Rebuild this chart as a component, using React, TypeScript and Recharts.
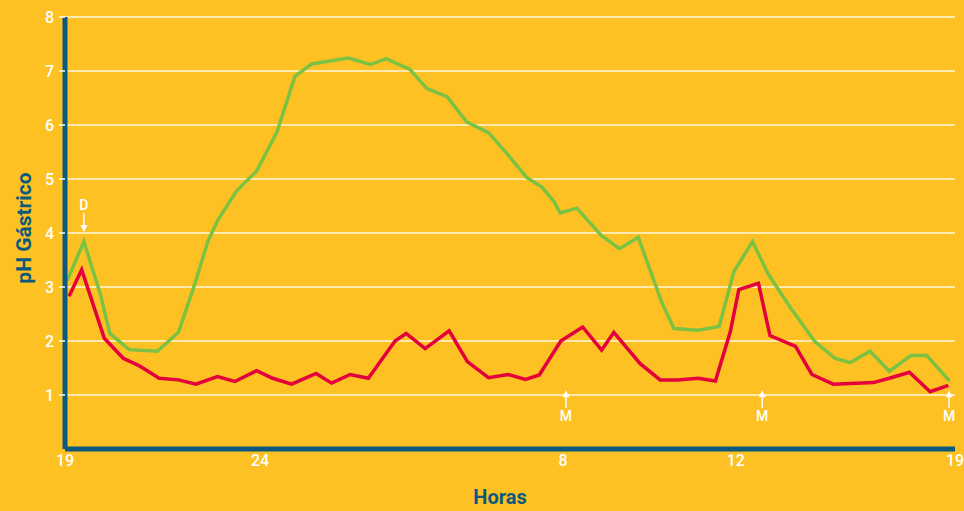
import React from 'react';
import { LineChart, Line, XAxis, YAxis, CartesianGrid, ReferenceDot } from 'recharts';

// x positions are in "chart hours" from the first 19h tick (the drawing's time axis is not uniform)
const xTickPos = [0, 5.26, 13.43, 18.09, 24];
const xTickLabels = ['19', '24', '8', '12', '19'];
const yTicks = [1, 2, 3, 4, 5, 6, 7, 8];

const greenX = [
  0.06, 0.51, 0.96, 1.21, 1.73, 2.49, 3.06, 3.46, 3.86, 4.13, 4.63, 5.17, 5.71, 6.2, 6.65, 7.64,
  8.24, 8.66, 9.3, 9.75, 10.31, 10.83, 11.42, 11.82, 12.45, 12.86, 13.19, 13.35, 13.8, 14.47,
  14.95, 15.46, 16.09, 16.42, 17.08, 17.64, 18.04, 18.54, 18.97, 19.55, 20.22, 20.76, 21.17,
  21.71, 22.23, 22.81, 23.24, 23.85,
];
const greenPh = [
  3.12, 3.84, 2.85, 2.14, 1.84, 1.81, 2.16, 2.97, 3.86, 4.25, 4.78, 5.15, 5.86, 6.9, 7.13, 7.24,
  7.12, 7.23, 7.03, 6.68, 6.52, 6.06, 5.86, 5.55, 5.03, 4.85, 4.58, 4.37, 4.46, 3.95,
  3.71, 3.92, 2.72, 2.23, 2.2, 2.27, 3.29, 3.84, 3.23, 2.63, 1.99, 1.68, 1.6,
  1.81, 1.44, 1.73, 1.73, 1.26,
];

const redX = [
  0.11, 0.45, 1.06, 1.57, 1.98, 2.54, 3.06, 3.53, 4.11, 4.58, 5.17, 5.6, 6.11, 6.77, 7.19, 7.69,
  8.18, 8.9, 9.2, 9.71, 10.36, 10.85, 11.42, 11.95, 12.42, 12.79, 13.37, 13.96, 14.47, 14.8,
  15.51, 16.05, 16.53, 17.08, 17.54, 17.94, 18.17, 18.7, 19.01, 19.7, 20.14, 20.72, 21.8,
  22.23, 22.77, 23.33, 23.82,
];
const redPh = [
  2.83, 3.32, 2.05, 1.68, 1.55, 1.31, 1.28, 1.2, 1.34, 1.25, 1.45, 1.31, 1.2, 1.4, 1.22, 1.38,
  1.31, 2.0, 2.14, 1.86, 2.19, 1.62, 1.32, 1.38, 1.29, 1.37, 2.0, 2.26, 1.83, 2.16,
  1.58, 1.28, 1.28, 1.31, 1.26, 2.17, 2.95, 3.07, 2.1, 1.9, 1.38, 1.2, 1.23,
  1.31, 1.42, 1.06, 1.18,
];

// D = down arrow, M = up arrows (x position, pH at arrow tip)
const markerX = [0.51, 13.51, 18.8, 23.84];
const markerPh = [4.02, 1.09, 1.09, 1.09];
const markerLabels = ['D', 'M', 'M', 'M'];

const greenData = greenX.map((x, i) => ({ x, ph: greenPh[i] }));
const redData = redX.map((x, i) => ({ x, ph: redPh[i] }));

const BG = '#fdc123';
const BLUE = '#0b5a7d';
const GREEN = '#7cc242';
const RED = '#e3003d';
const FONT = 'Roboto, "Noto Sans", sans-serif';

const Arrow = (props: any) => {
  const { cx, cy, label } = props;
  if (cx == null || cy == null) return null;
  if (label === 'D') {
    return (
      <g>
        <text x={cx} y={cy - 22} textAnchor="middle" fill="#fff" fontSize={14} fontWeight={500} fontFamily={FONT}>D</text>
        <line x1={cx} y1={cy - 19} x2={cx} y2={cy - 5} stroke="#fff" strokeWidth={1.5} />
        <path d={`M${cx - 3.5},${cy - 7} L${cx + 3.5},${cy - 7} L${cx},${cy} Z`} fill="#fff" />
      </g>
    );
  }
  return (
    <g>
      <path d={`M${cx - 3.5},${cy + 7} L${cx + 3.5},${cy + 7} L${cx},${cy} Z`} fill="#fff" />
      <line x1={cx} y1={cy + 5} x2={cx} y2={cy + 18} stroke="#fff" strokeWidth={1.5} />
      <text x={cx} y={cy + 31} textAnchor="middle" fill="#fff" fontSize={14} fontWeight={500} fontFamily={FONT}>{label}</text>
    </g>
  );
};

export default function App() {
  return (
    <div style={{ position: 'fixed', left: 0, top: 0, width: 964, height: 511, background: BG, fontFamily: FONT }}>
      <LineChart width={964} height={511} margin={{ top: 17, right: 9, left: 20, bottom: 32 }}>
        <CartesianGrid vertical={false} stroke="#fff6dc" strokeWidth={1.5} />
        <XAxis
          type="number"
          dataKey="x"
          domain={[0, 24]}
          ticks={xTickPos}
          interval={0}
          tickFormatter={(v: number) => xTickLabels[xTickPos.indexOf(v)]}
          axisLine={{ stroke: BLUE, strokeWidth: 5 }}
          tickLine={false}
          tickMargin={0}
          height={30}
          tick={{ fill: '#fff', fontSize: 16, fontWeight: 500, fontFamily: FONT }}
        />
        <YAxis
          type="number"
          domain={[0, 8]}
          ticks={yTicks}
          interval={0}
          axisLine={{ stroke: BLUE, strokeWidth: 5 }}
          tickLine={{ stroke: '#fff', strokeWidth: 1.5 }}
          tickSize={6}
          tickMargin={5}
          width={45}
          tick={{ fill: '#fff', fontSize: 16, fontWeight: 500, fontFamily: FONT }}
        />
        <Line data={greenData} dataKey="ph" type="linear" stroke={GREEN} strokeWidth={3.5} dot={false} isAnimationActive={false} />
        <Line data={redData} dataKey="ph" type="linear" stroke={RED} strokeWidth={3.5} dot={false} isAnimationActive={false} />
        {markerX.map((x, i) => (
          <ReferenceDot
            key={i}
            x={x}
            y={markerPh[i]}
            r={0}
            shape={(p: any) => <Arrow {...p} label={markerLabels[i]} />}
          />
        ))}
      </LineChart>
      <div
        style={{
          position: 'absolute', left: 24, top: 228, transform: 'translate(-50%, -50%) rotate(-90deg)',
          color: BLUE, fontSize: 21, fontWeight: 700, whiteSpace: 'nowrap',
        }}
      >
        pH Gástrico
      </div>
      <div
        style={{
          position: 'absolute', left: 500, top: 497, transform: 'translate(-50%, -50%)',
          color: BLUE, fontSize: 20, fontWeight: 700, whiteSpace: 'nowrap',
        }}
      >
        Horas
      </div>
    </div>
  );
}
